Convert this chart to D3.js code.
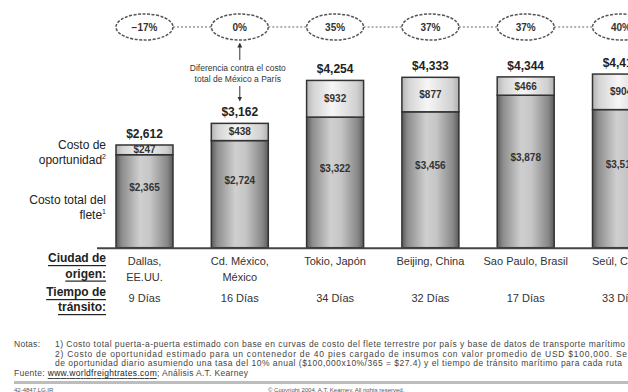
<!DOCTYPE html>
<html>
<head>
<meta charset="utf-8">
<script src="https://cdn.jsdelivr.net/npm/d3@7/dist/d3.min.js"></script>
<style>
  html, body { margin: 0; padding: 0; background: #fff; }
  svg { display: block; font-family: "Liberation Sans", Arial, sans-serif; }
</style>
</head>
<body>
<svg id="chart" width="628" height="392"></svg>
<script>
// Freight cost to Paris by city of origin (USD per 40' container)
const cities = ["Dallas", "Cd. México", "Tokio", "Beijing", "Sao Paulo", "Seúl"];
const cityLabels = [["Dallas,", "EE.UU."], ["Cd. México,", "México"], ["Tokio, Japón"], ["Beijing, China"], ["Sao Paulo, Brasil"], ["Seúl, Corea"]];
const freightCost = [2365, 2724, 3322, 3456, 3878, 3512];
const opportunityCost = [247, 438, 932, 877, 466, 904];
const transitDays = [9, 16, 34, 32, 17, 33];
const referenceCity = "Cd. México";

const rows = cities.map((c, i) => ({
  city: c,
  label: cityLabels[i],
  freight: freightCost[i],
  opp: opportunityCost[i],
  total: freightCost[i] + opportunityCost[i],
  days: transitDays[i]
}));
const refTotal = rows.find(r => r.city === referenceCity).total;

const svg = d3.select("#chart");
const money = d3.format("$,");
const baseY = 247.7;

const x = d3.scaleBand().domain(cities).range([96.85, 668.65]).paddingInner(0.402).paddingOuter(0.201);
const y = d3.scaleLinear().domain([0, 5000]).range([baseY, baseY - 196.6]);

// Cylinder-style shading for the two stacked segments
const defs = svg.append("defs");
function grad(id, stops) {
  const g = defs.append("linearGradient").attr("id", id).attr("x1", 0).attr("x2", 1).attr("y1", 0).attr("y2", 0);
  stops.forEach(([o, c]) => g.append("stop").attr("offset", o).attr("stop-color", c));
}
grad("gFreight", [[0, "#5a5a5a"], [0.1, "#8c8c8c"], [0.42, "#cfcfcf"], [0.6, "#c6c6c6"], [0.9, "#878787"], [1, "#5a5a5a"]]);
grad("gOpp", [[0, "#b4b4b4"], [0.12, "#d4d4d4"], [0.45, "#f6f6f6"], [0.88, "#d0d0d0"], [1, "#b0b0b0"]]);

const bars = svg.append("g").selectAll("g").data(rows).join("g");

bars.append("rect")
  .attr("x", d => x(d.city)).attr("width", x.bandwidth())
  .attr("y", d => y(d.freight)).attr("height", d => y(0) - y(d.freight))
  .attr("fill", "url(#gFreight)").attr("stroke", "#333").attr("stroke-width", 1.5);

bars.append("rect")
  .attr("x", d => x(d.city)).attr("width", x.bandwidth())
  .attr("y", d => y(d.total)).attr("height", d => y(d.freight) - y(d.total))
  .attr("fill", "url(#gOpp)").attr("stroke", "#333").attr("stroke-width", 1.5);

// Segment values
bars.append("text")
  .attr("x", d => x(d.city) + x.bandwidth() / 2)
  .attr("y", d => (y(d.freight) + y(0)) / 2 - 14)
  .attr("text-anchor", "middle").attr("dominant-baseline", "central")
  .attr("font-size", 10).attr("font-weight", "bold").attr("fill", "#333")
  .text(d => money(d.freight));

bars.append("text")
  .attr("x", d => x(d.city) + x.bandwidth() / 2)
  .attr("y", d => (y(d.freight) + y(d.total)) / 2)
  .attr("text-anchor", "middle").attr("dominant-baseline", "central")
  .attr("font-size", 10).attr("font-weight", "bold").attr("fill", "#333")
  .text(d => money(d.opp));

// Totals above bars
bars.append("text")
  .attr("x", d => x(d.city) + x.bandwidth() / 2)
  .attr("y", d => y(d.total) - 11)
  .attr("text-anchor", "middle").attr("dominant-baseline", "central")
  .attr("font-size", 12).attr("font-weight", "bold").attr("fill", "#222")
  .text(d => money(d.total));

// Baseline
svg.append("line").attr("x1", 97).attr("x2", 628).attr("y1", baseY + 0.5).attr("y2", baseY + 0.5)
  .attr("stroke", "#444").attr("stroke-width", 2);

// Percent difference vs. reference city
const ellY = 27, rx = 28.5, ry = 13;
const cx = d => x(d.city) + x.bandwidth() / 2;
const pct = d3.format(".0%");
svg.append("g").selectAll("line").data(rows.slice(1)).join("line")
  .attr("x1", (d, i) => cx(rows[i]) + rx).attr("x2", d => cx(d) - rx)
  .attr("y1", ellY).attr("y2", ellY)
  .attr("stroke", "#999").attr("stroke-width", 1.3).attr("stroke-dasharray", "2,2");
const ells = svg.append("g").selectAll("g").data(rows).join("g");
ells.append("ellipse").attr("cx", cx).attr("cy", ellY).attr("rx", rx).attr("ry", ry)
  .attr("fill", "#fff").attr("stroke", "#555").attr("stroke-width", 1.5).attr("stroke-dasharray", "3,1.5");
ells.append("text").attr("x", cx).attr("y", ellY)
  .attr("text-anchor", "middle").attr("dominant-baseline", "central")
  .attr("font-size", 10).attr("font-weight", "bold").attr("fill", "#333")
  .text(d => pct(d.total / refTotal - 1));

// Annotation under the reference ellipse
const ref = rows.find(r => r.city === referenceCity);
const ax = cx(ref);
defs.append("marker").attr("id", "arrow").attr("viewBox", "0 0 6 6").attr("refX", 3).attr("refY", 3)
  .attr("markerWidth", 5).attr("markerHeight", 5).attr("orient", "auto-start-reverse")
  .append("path").attr("d", "M0,0 L6,3 L0,6 Z").attr("fill", "#333");
svg.append("line").attr("x1", ax).attr("x2", ax).attr("y1", 60).attr("y2", 45)
  .attr("stroke", "#333").attr("stroke-width", 1).attr("marker-end", "url(#arrow)");
svg.append("line").attr("x1", ax).attr("x2", ax).attr("y1", 86).attr("y2", 99)
  .attr("stroke", "#333").attr("stroke-width", 1).attr("marker-end", "url(#arrow)");
svg.append("text").attr("x", ax - 2).attr("y", 67.5).attr("text-anchor", "middle").attr("dominant-baseline", "central")
  .attr("font-size", 8.5).attr("fill", "#333").text("Diferencia contra el costo");
svg.append("text").attr("x", ax - 2).attr("y", 79).attr("text-anchor", "middle").attr("dominant-baseline", "central")
  .attr("font-size", 8.5).attr("fill", "#333").text("total de México a París");

// Row labels on the left
function leftLabel(lines, y0, dy, bold, underline) {
  lines.forEach((t, i) => {
    const el = svg.append("text").attr("x", 106).attr("y", y0 + i * dy)
      .attr("text-anchor", "end").attr("dominant-baseline", "central")
      .attr("font-size", 12).attr("fill", "#222");
    if (bold) el.attr("font-weight", "bold");
    if (underline) el.attr("text-decoration", "underline");
    const parts = t.split("^");
    el.append("tspan").text(parts[0]);
    if (parts[1]) el.append("tspan").attr("font-size", 7).attr("dy", -4).text(parts[1]);
  });
}
leftLabel(["Costo de", "oportunidad^2"], 145, 14.5, false, false);
leftLabel(["Costo total del", "flete^1"], 200, 15, false, false);
leftLabel(["Ciudad de", "origen:"], 258, 15.5, true, true);
leftLabel(["Tiempo de", "tránsito:"], 292, 15, true, true);

// City and transit-time labels
const cityG = svg.append("g").selectAll("text").data(rows).join("text")
  .attr("text-anchor", "middle").attr("font-size", 11).attr("fill", "#333");
cityG.each(function (d) {
  const t = d3.select(this);
  d.label.forEach((line, i) => {
    t.append("tspan").attr("x", cx(d)).attr("y", 261 + i * 15.5)
      .attr("dominant-baseline", "central").text(line);
  });
});
svg.append("g").selectAll("text").data(rows).join("text")
  .attr("x", cx).attr("y", 298).attr("text-anchor", "middle").attr("dominant-baseline", "central")
  .attr("font-size", 11).attr("fill", "#333").text(d => d.days + " Días");

// Notes and source
const notes = svg.append("g").attr("font-size", 8.5).attr("fill", "#444");
notes.append("text").attr("x", 14).attr("y", 344).attr("dominant-baseline", "central")
  .attr("textLength", 26).attr("lengthAdjust", "spacing").text("Notas:");
const noteLines = [
  ["1) Costo total puerta-a-puerta estimado con base en curvas de costo del flete terrestre por país y base de datos de transporte marítimo", 570],
  ["2) Costo de oportunidad estimado para un contenedor de 40 pies cargado de insumos con valor promedio de USD $100,000. Se calculó el costo", 645],
  ["de oportunidad diario asumiendo una tasa del 10% anual ($100,000x10%/365 = $27.4) y el tiempo de tránsito marítimo para cada ruta", 567]
];
noteLines.forEach(([t, w], i) => {
  notes.append("text").attr("x", 55).attr("y", 344 + i * 9.7)
    .attr("dominant-baseline", "central").attr("textLength", w).attr("lengthAdjust", "spacing").text(t);
});
const src = notes.append("text").attr("x", 14).attr("y", 373).attr("dominant-baseline", "central")
  .attr("textLength", 234).attr("lengthAdjust", "spacing");
src.append("tspan").text("Fuente: ");
src.append("tspan").attr("text-decoration", "underline").attr("fill", "#222").text("www.worldfreightrates.com");
src.append("tspan").text("; Análisis A.T. Kearney");

svg.append("rect").attr("x", 14).attr("y", 381).attr("width", 614).attr("height", 3).attr("fill", "#bdbdbd");
svg.append("text").attr("x", 14).attr("y", 389.5).attr("dominant-baseline", "central")
  .attr("font-size", 6).attr("fill", "#555").text("42-4847.LG.IR");
svg.append("text").attr("x", 268).attr("y", 389.5).attr("dominant-baseline", "central")
  .attr("font-size", 6).attr("fill", "#555").text("© Copyright 2004, A.T. Kearney. All rights reserved.");
</script>
</body>
</html>
